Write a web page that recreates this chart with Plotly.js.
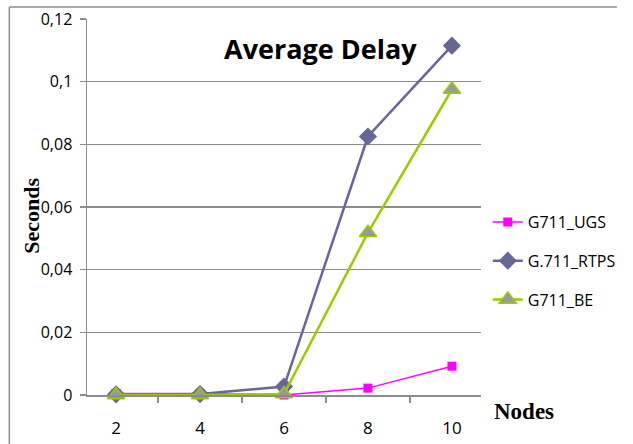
<!DOCTYPE html>
<html>
<head>
<meta charset="utf-8">
<script src="https://cdn.plot.ly/plotly-3.0.1.min.js"></script>
<style>html,body{margin:0;padding:0;background:#fff;}#chart{width:633px;height:444px;}</style>
</head>
<body>
<div id="chart"></div>
<script>
var nodes = ['2', '4', '6', '8', '10'];
var ugs = [0.0005, 0.0005, 0.0000, 0.0022, 0.0092];
var rtps = [0.0002, 0.0003, 0.0027, 0.0825, 0.1115];
var be = [0.0000, 0.0000, 0.0003, 0.0518, 0.0975];
var yTickVals = [0, 0.02, 0.04, 0.06, 0.08, 0.1, 0.12];
var yTickText = ['0', '0,02', '0,04', '0,06', '0,08', '0,1', '0,12'];

var W = 633, H = 444, L = 87, R = 140, T = 19, B = 49;
var pw = W - L - R, ph = H - T - B;
function px(x) { return (x - L) / pw; }
function py(y) { return (H - B - y) / ph; }

var fontMain = 'Open Sans, sans-serif';
var traces = [
  {x: nodes, y: ugs, name: 'G711_UGS', type: 'scatter', mode: 'lines+markers', cliponaxis: false,
   legendgroup: 'a',
   line: {color: '#FF00FF', width: 1.5}, marker: {symbol: 'square', size: 9, color: '#FF00FF'}},
  {x: nodes, y: rtps, name: 'G.711_RTPS', type: 'scatter', mode: 'lines+markers', cliponaxis: false,
   legendgroup: 'b',
   line: {color: '#666699', width: 2.5}, marker: {symbol: 'diamond', size: 14, color: '#666699'}},
  {x: nodes, y: be, name: 'G711_BE', type: 'scatter', mode: 'lines+markers', cliponaxis: false,
   legendgroup: 'c',
   line: {color: '#99CC00', width: 2.5},
   marker: {symbol: 'triangle-up', size: 15, color: '#999999', line: {color: '#99CC00', width: 1.5}}}
];

var layout = {
  width: W, height: H,
  margin: {l: L, r: R, t: T, b: B, pad: 0},
  paper_bgcolor: '#ffffff', plot_bgcolor: '#ffffff',
  font: {family: fontMain, size: 16, color: '#000'},
  showlegend: true,
  legend: {x: px(500), y: py(205), xanchor: 'left', yanchor: 'top', tracegroupgap: 15,
           font: {family: fontMain, size: 16, color: '#000'}, bgcolor: 'rgba(0,0,0,0)'},
  xaxis: {type: 'category', showgrid: false, showline: true, linecolor: '#8c8c8c', linewidth: 1.5,
          ticks: 'outside', tickson: 'boundaries', ticklen: 6, tickcolor: '#8c8c8c', tickwidth: 1.5,
          ticklabelstandoff: 17,
          tickfont: {family: fontMain, size: 17, color: '#000'}, zeroline: false, fixedrange: true},
  yaxis: {range: [0, 0.12], tickvals: yTickVals, ticktext: yTickText, showgrid: true,
          gridcolor: '#8c8c8c', gridwidth: 1.5, showline: true, linecolor: '#8c8c8c', linewidth: 1.5,
          ticks: 'outside', ticklen: 6, tickcolor: '#8c8c8c', tickwidth: 1.5, zeroline: false,
          tickfont: {family: fontMain, size: 16, color: '#000'}, ticklabelstandoff: 4, fixedrange: true},
  annotations: [
    {text: '<b>Average Delay</b>', xref: 'paper', yref: 'paper', x: px(328), y: py(48),
     xanchor: 'center', yanchor: 'middle', showarrow: false,
     font: {family: fontMain, size: 27, color: '#000'}},
    {text: '<b>Nodes</b>', xref: 'paper', yref: 'paper', x: px(537), y: py(411),
     xanchor: 'center', yanchor: 'middle', showarrow: false,
     font: {family: 'Liberation Serif, serif', size: 23, color: '#000'}},
    {text: '<b>Seconds</b>', xref: 'paper', yref: 'paper', x: px(29), y: py(216),
     xanchor: 'center', yanchor: 'middle', showarrow: false, textangle: -90,
     font: {family: 'Liberation Serif, serif', size: 22, color: '#000'}}
  ],
  shapes: [
    {type: 'line', xref: 'paper', yref: 'paper', x0: px(7), x1: px(7), y0: py(7), y1: py(444),
     line: {color: '#8c8c8c', width: 1.5}},
    {type: 'line', xref: 'paper', yref: 'paper', x0: px(7), x1: px(633), y0: py(7), y1: py(7),
     line: {color: '#8c8c8c', width: 1.5}}
  ]
};

Plotly.newPlot('chart', traces, layout, {displayModeBar: false, staticPlot: true});
</script>
</body>
</html>
